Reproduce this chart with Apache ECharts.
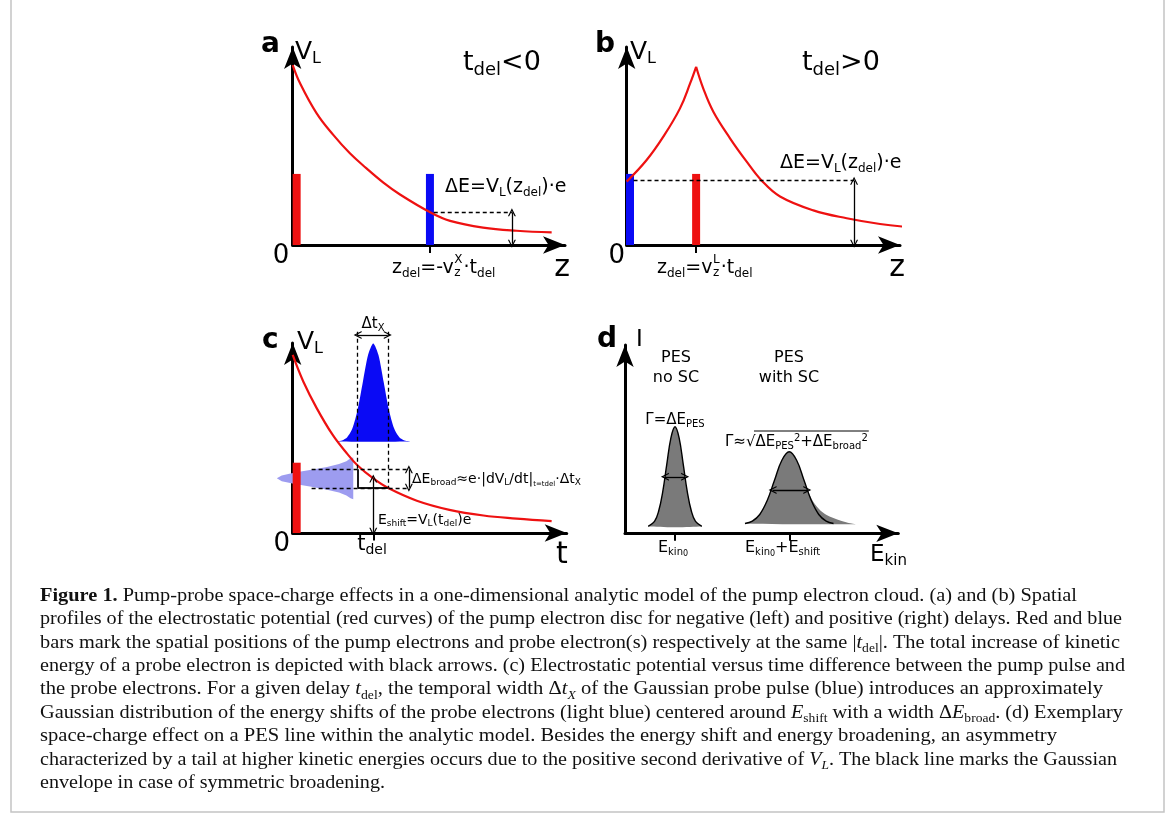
<!DOCTYPE html>
<html><head><meta charset="utf-8">
<script src="https://cdn.jsdelivr.net/npm/echarts@6/dist/echarts.min.js"></script>
<style>html,body{margin:0;padding:0;background:#fff}#c{width:1169px;height:827px}</style>
</head><body><div id="c"></div>
<script>
// ================= DATA =================
// Panel a : potential V_L(z) for t_del < 0
const curveA_x = [0, 0.27, 0.88, 1.49, 2.10, 2.70, 3.33, 3.94, 5.05, 5.78, 6.99, 8.22, 9.51];
const curveA_y = [9.09, 8.17, 6.65, 5.56, 4.63, 3.88, 3.15, 2.55, 1.65, 1.22, 0.88, 0.72, 0.64];
const pumpBarA = [[0.145, 3.59]];          // [z, height]
const probeBarA = [[5.04, 3.59]];
const dashedA = [[5.18, 1.65, 8.05, 1.65]];  // [x1,y1,x2,y2]
const arrowsA = [[8.05, 1.65, 8.05, 0.06]];
const ticksA = [[5.04, 0, 5.04, -0.4]];

// Panel b : potential V_L(z) for t_del > 0 (cusp at the pump disc)
const curveB1_x = [0, 0.73, 1.34, 1.95, 2.32, 2.54];
const curveB1_y = [3.20, 4.29, 5.47, 6.90, 8.16, 9.0];
const curveB2_x = [2.54, 2.80, 3.17, 3.78, 4.39, 4.94, 5.61, 6.83, 8.05, 9.27, 10.43];
const curveB2_y = [9.0, 7.91, 6.73, 5.39, 4.21, 3.25, 2.45, 1.75, 1.35, 1.06, 0.89];
const probeBarB = [[0.12, 3.59]];
const pumpBarB = [[2.54, 3.59]];
const dashedB = [[0.25, 3.25, 8.32, 3.25]];
const arrowsB = [[8.32, 3.25, 8.32, 0.06]];
const ticksB = [[2.54, 0, 2.54, -0.4]];

// Panel c : potential versus time
const curveC_x = [0, 0.39, 0.88, 1.46, 2.0, 2.37, 2.94, 3.47, 4.53, 5.72, 6.96, 8.17, 9.45];
const curveC_y = [9.37, 7.96, 6.56, 5.16, 4.15, 3.55, 2.87, 2.38, 1.70, 1.22, 0.92, 0.76, 0.63];
const pumpBarC = [[0.145, 3.70]];
const probePulse_x = [1.54, 1.80, 1.99, 2.18, 2.37, 2.56, 2.75, 2.94, 3.13, 3.32, 3.51, 3.70, 3.89, 4.08, 4.34];
const probePulse_y = [4.81, 4.87, 5.04, 5.51, 6.49, 7.95, 9.37, 9.98, 9.37, 7.95, 6.49, 5.51, 5.04, 4.87, 4.81];
const shiftDist_x = [2.21, 2.11, 1.96, 1.69, 1.25, 0.68, 0.08, -0.40, -0.58, -0.40, 0.08, 0.68, 1.25, 1.69, 1.96, 2.11, 2.21];
const shiftDist_y = [3.98, 3.93, 3.78, 3.63, 3.48, 3.33, 3.18, 3.03, 2.88, 2.73, 2.58, 2.43, 2.28, 2.13, 1.98, 1.83, 1.78];
const dashedC = [[2.37, 10.59, 2.37, 3.35], [3.47, 10.59, 3.47, 2.38], [0.69, 3.35, 4.16, 3.35], [0.69, 2.38, 4.16, 2.38]];
const solidC = [[2.37, 3.35, 2.37, 2.38], [2.37, 2.38, 3.47, 2.38]];
const arrowsC = [[2.37, 10.42, 3.47, 10.42], [4.24, 3.35, 4.24, 2.38], [2.94, 2.87, 2.94, 0.06]];
const ticksC = [[2.94, 0, 2.94, -0.4]];

// Panel d : photoemission lines
const pesLine_x = [0.85, 1.08, 1.23, 1.38, 1.53, 1.68, 1.83, 1.98, 2.13, 2.28, 2.43, 2.58, 2.81];
const pesLine_y = [0.37, 0.63, 1.17, 2.20, 3.67, 5.07, 5.66, 5.07, 3.67, 2.20, 1.17, 0.63, 0.37];
const scLine_x = [4.39, 4.66, 4.93, 5.20, 5.47, 5.74, 6.01, 6.28, 6.55, 6.82, 7.09, 7.36, 7.90, 8.15, 8.42];
const scLine_y = [0.52, 0.65, 1.00, 1.73, 2.82, 3.88, 4.33, 3.88, 2.82, 1.85, 1.30, 0.98, 0.66, 0.56, 0.48];
const gaussEnv_x = [4.39, 4.66, 4.93, 5.20, 5.47, 5.74, 6.01, 6.28, 6.55, 6.82, 7.09, 7.36, 7.63];
const gaussEnv_y = [0.52, 0.65, 1.00, 1.73, 2.82, 3.88, 4.33, 3.88, 2.82, 1.73, 1.00, 0.65, 0.52];
const arrowsD = [[1.46, 3.0, 2.20, 3.0], [5.40, 2.3, 6.67, 2.3]];
const ticksD = [[1.83, 0, 1.83, -0.4], [6.01, 0, 6.01, -0.4]];

// Caption lines: [text, style] segments
const captionLines = [
  [['Figure 1.', 'b'], [' Pump-probe space-charge effects in a one-dimensional analytic model of the pump electron cloud. (a) and (b) Spatial', 'r']],
  [['profiles of the electrostatic potential (red curves) of the pump electron disc for negative (left) and positive (right) delays. Red and blue', 'r']],
  [['bars mark the spatial positions of the pump electrons and probe electron(s) respectively at the same |', 'r'], ['t', 'i'], ['del', 'rs'], ['|. The total increase of kinetic', 'r']],
  [['energy of a probe electron is depicted with black arrows. (c) Electrostatic potential versus time difference between the pump pulse and', 'r']],
  [['the probe electrons. For a given delay ', 'r'], ['t', 'i'], ['del', 'rs'], [', the temporal width Δ', 'r'], ['t', 'i'], ['X', 'is'], [' of the Gaussian probe pulse (blue) introduces an approximately', 'r']],
  [['Gaussian distribution of the energy shifts of the probe electrons (light blue) centered around ', 'r'], ['E', 'i'], ['shift', 'rs'], [' with a width Δ', 'r'], ['E', 'i'], ['broad', 'rs'], ['. (d) Exemplary', 'r']],
  [['space-charge effect on a PES line within the analytic model. Besides the energy shift and energy broadening, an asymmetry', 'r']],
  [['characterized by a tail at higher kinetic energies occurs due to the positive second derivative of ', 'r'], ['V', 'i'], ['L', 'is'], ['. The black line marks the Gaussian', 'r']],
  [['envelope in case of symmetric broadening.', 'r']]
];
const captionRightEdges = [1077, 1122, 1120, 1125, 1103, 1123, 1057, 1117, 385];

// ================= RENDERING =================
const RED = '#ee1111', BLUE = '#0a0af5', LIGHT = '#9d9cf0', GRAY = '#7a7a7a';
const PF = 'DejaVu Sans', CF = 'Liberation Serif';
const mctx = document.createElement('canvas').getContext('2d');
function W(t, F, fam, wt, st) { mctx.font = (st || 'normal') + ' ' + (wt || 'normal') + ' ' + F + 'px ' + (fam || PF); return mctx.measureText(t).width; }

const zip = (xs, ys) => xs.map((x, i) => [x, ys[i]]);
function curve(g, xs, ys, color, w, z, smooth) {
  return { type: 'line', xAxisIndex: g, yAxisIndex: g, data: zip(xs, ys), smooth: smooth, symbol: 'none', clip: false, silent: true, z: z, lineStyle: { color: color, width: w } };
}
function poly(g, xs, ys, fill, z, sm) {
  return { type: 'custom', xAxisIndex: g, yAxisIndex: g, data: [[xs[0], ys[0]]], clip: false, silent: true, z: z,
    renderItem: (p, api) => ({ type: 'polygon', shape: { points: xs.map((x, i) => api.coord([x, ys[i]])), smooth: sm }, style: { fill: fill } }) };
}
function bars(g, data, color, z) {
  return { type: 'custom', xAxisIndex: g, yAxisIndex: g, data: data, clip: false, silent: true, z: z,
    renderItem: (p, api) => { const t = api.coord([api.value(0), api.value(1)]); const b = api.coord([api.value(0), 0]);
      return { type: 'rect', shape: { x: t[0] - 4, y: t[1], width: 8, height: b[1] - t[1] }, style: { fill: color } }; } };
}
const ARR = 'path://M0,10 L5,0 L10,10 L8.4,10 L5,3.2 L1.6,10 Z';
function segs(g, list, opt) {
  return { type: 'lines', coordinateSystem: 'cartesian2d', xAxisIndex: g, yAxisIndex: g, clip: false, silent: true, z: opt.z || 6,
    data: list.map(s => ({ coords: [[s[0], s[1]], [s[2], s[3]]] })),
    symbol: opt.arrow ? [ARR, ARR] : 'none', symbolSize: 8,
    lineStyle: { color: '#000', width: opt.w || 1.3, type: opt.dash ? [4, 3] : 'solid', opacity: 1 } };
}
function richFor(F, bold, fam) {
  fam = fam || PF; const s = Math.round(F * 0.65), ss = Math.round(F * 0.5);
  return {
    n: { fontSize: F, lineHeight: Math.round(F * 1.2), fontFamily: fam, fontWeight: bold ? 'bold' : 'normal', fill: '#000' },
    s: { fontSize: s, lineHeight: s, verticalAlign: 'bottom', fontFamily: fam, fill: '#000' },
    u: { fontSize: s, lineHeight: s, verticalAlign: 'top', fontFamily: fam, fill: '#000' },
    ss: { fontSize: ss, lineHeight: ss, verticalAlign: 'bottom', fontFamily: fam, fill: '#000' }
  };
}
function T(x, y, text, F, opt) {
  opt = opt || {};
  return { type: 'text', x: x, y: y, z: 100, silent: true,
    style: { text: text, rich: richFor(F, opt.bold), align: opt.align || 'left', verticalAlign: 'middle', fontSize: F, fontFamily: PF, fill: '#000' } };
}
function zdel(x0, yc, main, sup) {
  const F = 19, s = 12;
  const w = W('z', F) + W('del', s) + W(main, F);
  const ws = Math.max(W(sup, s), W('z', s));
  return [T(x0, yc, '{n|z}{s|del}{n|' + main + '}', F), T(x0 + w + 0.5, yc - 8, '{n|' + sup + '}', s),
    T(x0 + w + 0.5, yc + 5, '{n|z}', s), T(x0 + w + ws + 1.5, yc, '{n|·t}{s|del}', F)];
}

const grids = [
  { left: 292.7, top: 47, width: 272.3, height: 198 },
  { left: 626.7, top: 47, width: 273.3, height: 198 },
  { left: 292.7, top: 343, width: 274, height: 190 },
  { left: 625, top: 345, width: 273.3, height: 188.3 }
];
function axis(g) {
  return { type: 'value', gridIndex: g, min: 0, max: 10, axisLine: { show: true, onZero: false, symbol: ['none', 'arrow'], symbolSize: [13, 22], lineStyle: { color: '#000', width: 3 } },
    axisTick: { show: false }, axisLabel: { show: false }, splitLine: { show: false } };
}

const series = [
  // a
  bars(0, pumpBarA, RED, 3), bars(0, probeBarA, BLUE, 3),
  curve(0, curveA_x, curveA_y, RED, 2.2, 4, 0.4),
  segs(0, dashedA, { dash: true }), segs(0, arrowsA, { arrow: true }), segs(0, ticksA, { w: 2 }),
  // b
  bars(1, probeBarB, BLUE, 3), bars(1, pumpBarB, RED, 3),
  curve(1, curveB1_x, curveB1_y, RED, 2.2, 4, 0.4), curve(1, curveB2_x, curveB2_y, RED, 2.2, 4, 0.4),
  segs(1, dashedB, { dash: true }), segs(1, arrowsB, { arrow: true }), segs(1, ticksB, { w: 2 }),
  // c
  poly(2, probePulse_x, probePulse_y, BLUE, 2, 0.25), poly(2, shiftDist_x, shiftDist_y, LIGHT, 2, 0),
  bars(2, pumpBarC, RED, 3),
  curve(2, curveC_x, curveC_y, RED, 2.2, 4, 0.4),
  segs(2, dashedC, { dash: true }), segs(2, solidC, { w: 1.8 }), segs(2, arrowsC, { arrow: true }), segs(2, ticksC, { w: 2 }),
  // d
  poly(3, pesLine_x, pesLine_y, GRAY, 2, 0.3), poly(3, scLine_x, scLine_y, GRAY, 2, 0.3),
  curve(3, pesLine_x, pesLine_y, '#000', 1.4, 4, 0.4), curve(3, gaussEnv_x, gaussEnv_y, '#000', 1.4, 4, 0.4),
  segs(3, arrowsD, { arrow: true }), segs(3, ticksD, { w: 2 })
];

// ---- texts ----
const G = [];
// a
G.push(T(261, 45, '{n|a}', 28, { bold: true }));
G.push(T(295, 52, '{n|V}{s|L}', 25));
G.push(T(463, 63, '{n|t}{s|del}{n|<0}', 27));
G.push(T(445, 187, '{n|ΔE=V}{s|L}{n|(z}{s|del}{n|)·e}', 19));
G.push(T(281, 256, '{n|0}', 26, { align: 'center' }));
G.push(...zdel(392, 268, '=-v', 'X'));
G.push(T(562, 268, '{n|z}', 30, { align: 'center' }));
// b
G.push(T(595, 45, '{n|b}', 28, { bold: true }));
G.push(T(630, 52, '{n|V}{s|L}', 25));
G.push(T(802, 63, '{n|t}{s|del}{n|>0}', 27));
G.push(T(780, 163, '{n|ΔE=V}{s|L}{n|(z}{s|del}{n|)·e}', 19));
G.push(T(616.7, 256, '{n|0}', 26, { align: 'center' }));
G.push(...zdel(657, 268, '=v', 'L'));
G.push(T(897, 268, '{n|z}', 30, { align: 'center' }));
// c
G.push(T(262, 341, '{n|c}', 28, { bold: true }));
G.push(T(297, 342, '{n|V}{s|L}', 25));
G.push(T(373, 324, '{n|Δt}{s|X}', 15, { align: 'center' }));
G.push(T(412, 479, '{n|ΔE}{s|broad}{n|≈e·|dV}{s|L}{n|/dt|}{ss|t=t}{ss|del}{n|·Δt}{s|X}', 14));
G.push(T(378, 520, '{n|E}{s|shift}{n|=V}{s|L}{n|(t}{s|del}{n|)e}', 14));
G.push(T(281.7, 544, '{n|0}', 26, { align: 'center' }));
G.push(T(372, 545, '{n|t}{s|del}', 21, { align: 'center' }));
G.push(T(562, 555, '{n|t}', 30, { align: 'center' }));
// d
G.push(T(597, 340, '{n|d}', 28, { bold: true }));
G.push(T(636, 340, '{n|I}', 23));
G.push(T(676, 358, '{n|PES}', 16, { align: 'center' }));
G.push(T(676, 378, '{n|no SC}', 16, { align: 'center' }));
G.push(T(789, 358, '{n|PES}', 16, { align: 'center' }));
G.push(T(789, 378, '{n|with SC}', 16, { align: 'center' }));
G.push(T(675, 420, '{n|Γ=ΔE}{s|PES}', 15, { align: 'center' }));
G.push(T(725, 442, '{n|Γ≈√ΔE}{s|PES}{u|2}{n|+ΔE}{s|broad}{u|2}', 15));
(function () {
  const x0 = 725 + W('Γ≈√', 15) - 1.5;
  const tot = 725 + W('Γ≈√ΔE', 15) + W('PES', 10) + W('2', 10) + W('+ΔE', 15) + W('broad', 10) + W('2', 10) + 1;
  G.push({ type: 'line', z: 100, silent: true, shape: { x1: x0, y1: 431, x2: tot, y2: 431 }, style: { stroke: '#000', lineWidth: 1 } });
})();
G.push(T(673, 548, '{n|E}{s|kin}{ss|0}', 16, { align: 'center' }));
G.push(T(745, 548, '{n|E}{s|kin}{ss|0}{n|+E}{s|shift}', 16));
G.push(T(870, 555, '{n|E}{s|kin}', 23));

// ---- caption ----
const capStyles = {
  r: { fontSize: 18, fontFamily: CF, lineHeight: 24, fill: '#111' },
  b: { fontSize: 18, fontFamily: CF, lineHeight: 24, fontWeight: 'bold', fill: '#111' },
  i: { fontSize: 18, fontFamily: CF, lineHeight: 24, fontStyle: 'italic', fill: '#111' },
  rs: { fontSize: 12, fontFamily: CF, lineHeight: 12, verticalAlign: 'bottom', fill: '#111' },
  is: { fontSize: 12, fontFamily: CF, lineHeight: 12, verticalAlign: 'bottom', fontStyle: 'italic', fill: '#111' }
};
const capLeft = 40, capTop = 596, capStep = 23.4;
captionLines.forEach((line, k) => {
  let w = 0, txt = '';
  line.forEach(([t, st]) => {
    const s = capStyles[st];
    w += W(t, s.fontSize, CF, s.fontWeight, s.fontStyle);
    txt += '{' + st + '|' + t + '}';
  });
  const sx = (captionRightEdges[k] - capLeft) / w;
  G.push({ type: 'text', x: capLeft, y: capTop + k * capStep, scaleX: sx, z: 100, silent: true,
    style: { text: txt, rich: capStyles, align: 'left', verticalAlign: 'middle', fontSize: 18, fontFamily: CF, fill: '#111' } });
});
// frame
G.push({ type: 'polyline', z: 0, silent: true, shape: { points: [[11, -2], [11, 812], [1164, 812], [1164, -2]] }, style: { stroke: '#c4c4c4', lineWidth: 1.5, fill: null } });

const chart = echarts.init(document.getElementById('c'));
chart.setOption({
  animation: false,
  backgroundColor: '#fff',
  grid: grids,
  xAxis: grids.map((_, i) => axis(i)),
  yAxis: grids.map((_, i) => axis(i)),
  series: series,
  graphic: { elements: G }
});
</script>
</body></html>
